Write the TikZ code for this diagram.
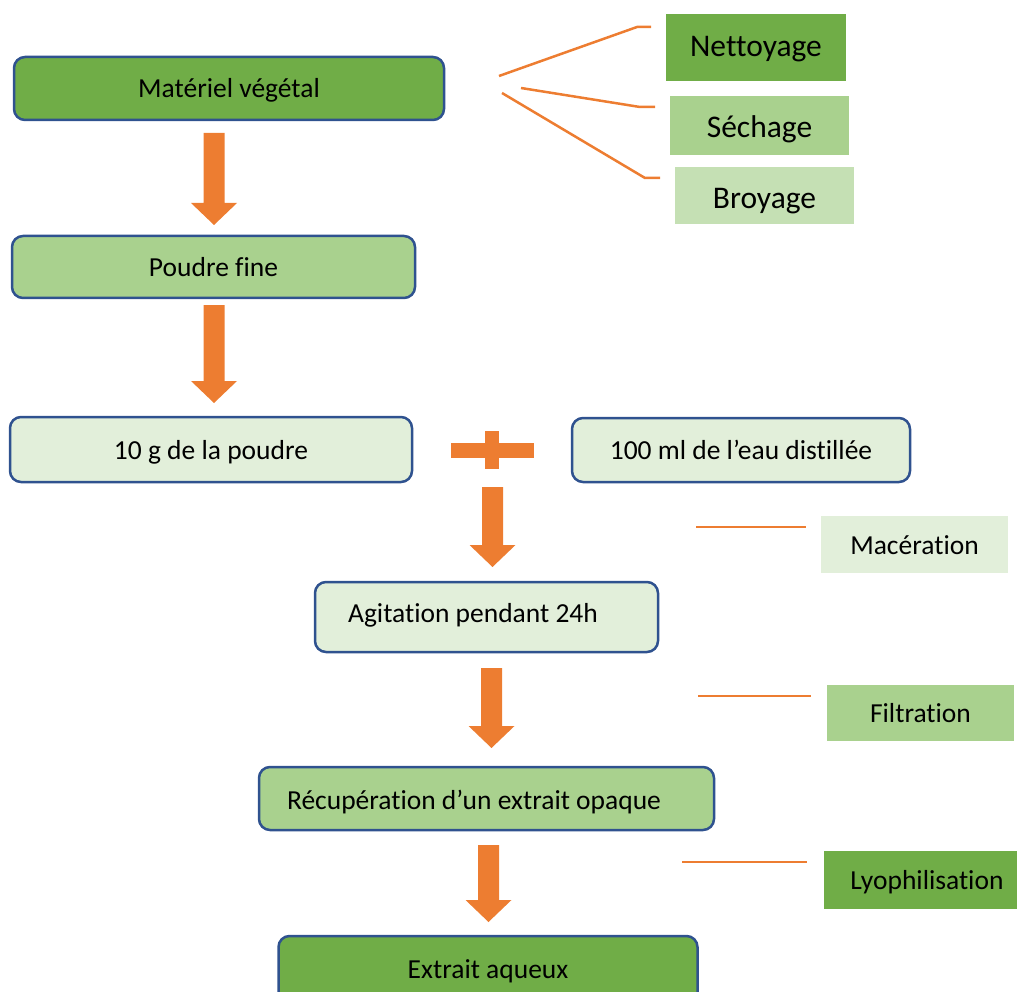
\documentclass[tikz,border=0pt]{standalone}
\usepackage{fontspec}
\setmainfont{Carlito}[Ligatures={NoCommon}]
\usetikzlibrary{calc}
\definecolor{dkgreen}{HTML}{70AD47}
\definecolor{mdgreen}{HTML}{A9D18E}
\definecolor{ltgreen}{HTML}{E2EFDA}
\definecolor{brgreen}{HTML}{C5E0B4}
\definecolor{bordblue}{HTML}{2F528F}
\definecolor{arrorange}{HTML}{ED7D31}
\tikzset{
  mainbox/.style={draw=bordblue, line width=2.5pt, rounded corners=11pt, inner sep=0pt,
    font=\fontsize{27.5}{33}\selectfont, text height=22pt, text depth=3pt},
  boxtext/.style={inner sep=0pt, font=\fontsize{27.5}{33}\selectfont, text height=22pt, text depth=3pt},
  sidebox/.style={inner sep=0pt, font=\fontsize{27.5}{33}\selectfont, text height=22pt, text depth=3pt},
  topbox/.style={inner sep=0pt, font=\fontsize{31.5}{38}\selectfont},
  leader/.style={draw=arrorange, line width=2.5pt},
  blockarrow/.style={fill=arrorange, to path={let \p1=(\tikztostart), \p2=(\tikztotarget) in
    (\x1-10.5pt,\y1) -- (\x1+10.5pt,\y1) -- (\x1+10.5pt,\y2+22pt) -- (\x1+23pt,\y2+22pt)
    -- (\x1,\y2) -- (\x1-23pt,\y2+22pt) -- (\x1-10.5pt,\y2+22pt) -- cycle}}
}
\begin{document}
\begin{tikzpicture}[x=1pt,y=-1pt]
\useasboundingbox (0,0) rectangle (1017,992);
\begin{scope}
\clip (0,0) rectangle (1017,992);
% main boxes
\node[mainbox, fill=dkgreen, minimum width=430, minimum height=63] (b1) at (229,88.5) {Matériel végétal};
\node[mainbox, fill=mdgreen, minimum width=403, minimum height=62] (b2) at (213.5,267) {Poudre fine};
\node[mainbox, fill=ltgreen, minimum width=402, minimum height=65] (b3) at (211,449.5) {10 g de la poudre};
\node[mainbox, fill=ltgreen, minimum width=338, minimum height=64] (b3b) at (741,450) {100 ml de l’eau distillée};
\node[mainbox, fill=ltgreen, minimum width=343, minimum height=70] (b4) at (486.5,617) {};
\node[boxtext] (t4) at (473,613) {Agitation pendant 24h};
\node[mainbox, fill=mdgreen, minimum width=455, minimum height=63] (b5) at (486.5,798.5) {};
\node[boxtext] (t5) at (474,800) {Récupération d’un extrait opaque};
\node[mainbox, fill=dkgreen, minimum width=419, minimum height=70] (b6) at (488,971) {};
\node[boxtext] (t6) at (488,969) {Extrait aqueux};
% plus sign
\fill[arrorange] (451,443) rectangle (534,458);
\fill[arrorange] (485,431) rectangle (499,469);
\end{scope}
% block arrows
\coordinate (a1s) at (214,133); \coordinate (a1e) at (214,225);
\coordinate (a2s) at (214,305); \coordinate (a2e) at (214,403);
\coordinate (a3s) at (492.5,487); \coordinate (a3e) at (492.5,567);
\coordinate (a4s) at (491.5,668); \coordinate (a4e) at (491.5,748);
\coordinate (a5s) at (488.5,845); \coordinate (a5e) at (488.5,922);
\path[blockarrow] (a1s) to (a1e);
\path[blockarrow] (a2s) to (a2e);
\path[blockarrow] (a3s) to (a3e);
\path[blockarrow] (a4s) to (a4e);
\path[blockarrow] (a5s) to (a5e);
% top-right labels
\node[topbox, fill=dkgreen, minimum width=180, minimum height=67, text height=22pt, text depth=4pt] (n1) at (756,48) {Nettoyage};
\node[topbox, fill=mdgreen, minimum width=179, minimum height=59, text height=26pt, text depth=3pt] (n2) at (759.5,126) {Séchage};
\node[topbox, fill=brgreen, minimum width=179, minimum height=57, text height=28pt, text depth=3pt] (n3) at (764.5,196) {Broyage};
\coordinate (l1a) at (499,76); \coordinate (l1b) at (637,27); \coordinate (l1c) at (651,27);
\coordinate (l2a) at (521,88); \coordinate (l2b) at (640,107); \coordinate (l2c) at (655,107);
\coordinate (l3a) at (502,93); \coordinate (l3b) at (645,178); \coordinate (l3c) at (660,178);
\draw[leader] (l1a) -- (l1b) -- (l1c);
\draw[leader] (l2a) -- (l2b) -- (l2c);
\draw[leader] (l3a) -- (l3b) -- (l3c);
% right labels
\node[sidebox, fill=ltgreen, minimum width=187, minimum height=57] (m1) at (914.5,544.5) {Macération};
\node[sidebox, fill=mdgreen, minimum width=187, minimum height=56] (m2) at (920.5,713) {Filtration};
\fill[dkgreen] (824,851) rectangle (1017,909);
\node[sidebox] (m3) at (927,880) {Lyophilisation};
\coordinate (r1a) at (696,527); \coordinate (r1b) at (806,527);
\coordinate (r2a) at (698,696); \coordinate (r2b) at (811,696);
\coordinate (r3a) at (682,862); \coordinate (r3b) at (807,862);
\draw[leader] (r1a) -- (r1b);
\draw[leader] (r2a) -- (r2b);
\draw[leader] (r3a) -- (r3b);
\end{tikzpicture}
\end{document}
